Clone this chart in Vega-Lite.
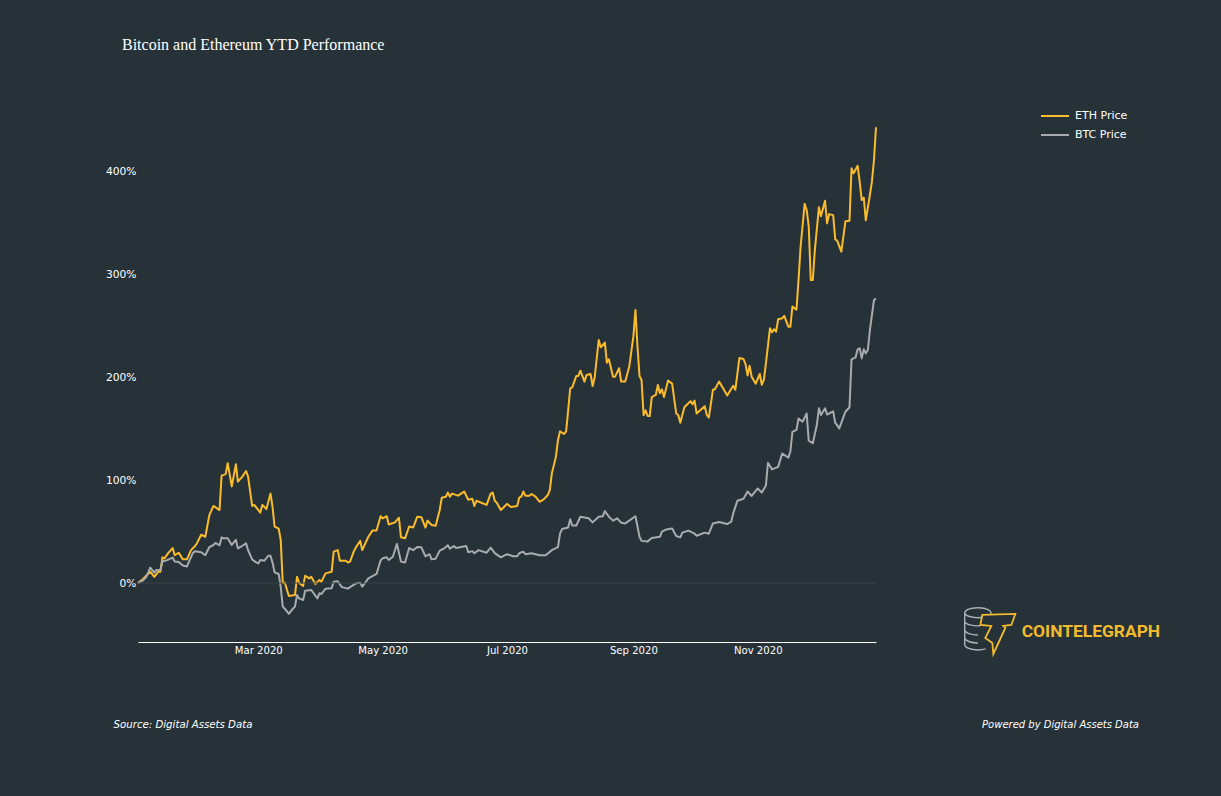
{"$schema":"https://vega.github.io/schema/vega-lite/v6.json","width":738,"height":542,"autosize":{"type":"none"},"padding":{"left":138,"top":100,"right":345,"bottom":154},"background":"#263238","config":{"view":{"stroke":null},"font":"DejaVu Sans"},"title":{"text":"Bitcoin and Ethereum YTD Performance","anchor":"start","frame":"group","dx":-16,"offset":47,"font":"Liberation Serif","fontSize":16,"fontWeight":"normal","color":"#ffffff"},
"datasets":{"prices":[
{"date":"2020-01-02","series":"ETH Price","value":0},{"date":"2020-01-04","series":"ETH Price","value":3},{"date":"2020-01-06","series":"ETH Price","value":7},{"date":"2020-01-08","series":"ETH Price","value":11},{"date":"2020-01-10","series":"ETH Price","value":6},{"date":"2020-01-12","series":"ETH Price","value":11},{"date":"2020-01-13","series":"ETH Price","value":11},{"date":"2020-01-14","series":"ETH Price","value":25},{"date":"2020-01-15","series":"ETH Price","value":24},{"date":"2020-01-17","series":"ETH Price","value":29.5},{"date":"2020-01-19","series":"ETH Price","value":34},{"date":"2020-01-20","series":"ETH Price","value":27},{"date":"2020-01-22","series":"ETH Price","value":29.5},{"date":"2020-01-24","series":"ETH Price","value":23},{"date":"2020-01-26","series":"ETH Price","value":23},{"date":"2020-01-28","series":"ETH Price","value":32},{"date":"2020-01-30","series":"ETH Price","value":36},{"date":"2020-01-31","series":"ETH Price","value":39},{"date":"2020-02-02","series":"ETH Price","value":47},{"date":"2020-02-04","series":"ETH Price","value":45},{"date":"2020-02-06","series":"ETH Price","value":66},{"date":"2020-02-08","series":"ETH Price","value":75},{"date":"2020-02-11","series":"ETH Price","value":71},{"date":"2020-02-12","series":"ETH Price","value":104.5},{"date":"2020-02-14","series":"ETH Price","value":106},{"date":"2020-02-15","series":"ETH Price","value":116.5},{"date":"2020-02-17","series":"ETH Price","value":94},{"date":"2020-02-19","series":"ETH Price","value":115.5},{"date":"2020-02-20","series":"ETH Price","value":98.6},{"date":"2020-02-22","series":"ETH Price","value":103},{"date":"2020-02-24","series":"ETH Price","value":109},{"date":"2020-02-25","series":"ETH Price","value":103.5},{"date":"2020-02-27","series":"ETH Price","value":75},{"date":"2020-02-28","series":"ETH Price","value":76},{"date":"2020-02-29","series":"ETH Price","value":73.6},{"date":"2020-03-02","series":"ETH Price","value":68.5},{"date":"2020-03-03","series":"ETH Price","value":76},{"date":"2020-03-05","series":"ETH Price","value":72},{"date":"2020-03-07","series":"ETH Price","value":87},{"date":"2020-03-08","series":"ETH Price","value":74},{"date":"2020-03-09","series":"ETH Price","value":55},{"date":"2020-03-11","series":"ETH Price","value":53},{"date":"2020-03-12","series":"ETH Price","value":42},{"date":"2020-03-13","series":"ETH Price","value":0},{"date":"2020-03-14","series":"ETH Price","value":0.5},{"date":"2020-03-16","series":"ETH Price","value":-12.6},{"date":"2020-03-19","series":"ETH Price","value":-11.7},{"date":"2020-03-20","series":"ETH Price","value":6},{"date":"2020-03-21","series":"ETH Price","value":0.3},{"date":"2020-03-23","series":"ETH Price","value":-3},{"date":"2020-03-24","series":"ETH Price","value":7},{"date":"2020-03-26","series":"ETH Price","value":4.5},{"date":"2020-03-27","series":"ETH Price","value":6},{"date":"2020-03-29","series":"ETH Price","value":-1},{"date":"2020-03-31","series":"ETH Price","value":3},{"date":"2020-04-01","series":"ETH Price","value":1.3},{"date":"2020-04-03","series":"ETH Price","value":9.4},{"date":"2020-04-06","series":"ETH Price","value":11},{"date":"2020-04-07","series":"ETH Price","value":30.5},{"date":"2020-04-09","series":"ETH Price","value":32},{"date":"2020-04-10","series":"ETH Price","value":21.7},{"date":"2020-04-13","series":"ETH Price","value":21.7},{"date":"2020-04-14","series":"ETH Price","value":20},{"date":"2020-04-15","series":"ETH Price","value":20.8},{"date":"2020-04-17","series":"ETH Price","value":31.5},{"date":"2020-04-18","series":"ETH Price","value":35},{"date":"2020-04-20","series":"ETH Price","value":41},{"date":"2020-04-21","series":"ETH Price","value":32},{"date":"2020-04-24","series":"ETH Price","value":45},{"date":"2020-04-26","series":"ETH Price","value":51},{"date":"2020-04-28","series":"ETH Price","value":51},{"date":"2020-04-30","series":"ETH Price","value":65},{"date":"2020-05-01","series":"ETH Price","value":63},{"date":"2020-05-03","series":"ETH Price","value":65},{"date":"2020-05-04","series":"ETH Price","value":57},{"date":"2020-05-07","series":"ETH Price","value":59},{"date":"2020-05-09","series":"ETH Price","value":63.5},{"date":"2020-05-10","series":"ETH Price","value":44.5},{"date":"2020-05-12","series":"ETH Price","value":43.5},{"date":"2020-05-14","series":"ETH Price","value":55},{"date":"2020-05-16","series":"ETH Price","value":54},{"date":"2020-05-18","series":"ETH Price","value":64.5},{"date":"2020-05-20","series":"ETH Price","value":64},{"date":"2020-05-22","series":"ETH Price","value":54},{"date":"2020-05-23","series":"ETH Price","value":60.7},{"date":"2020-05-25","series":"ETH Price","value":56.4},{"date":"2020-05-27","series":"ETH Price","value":55.8},{"date":"2020-05-29","series":"ETH Price","value":71},{"date":"2020-05-30","series":"ETH Price","value":83},{"date":"2020-06-01","series":"ETH Price","value":84},{"date":"2020-06-02","series":"ETH Price","value":88},{"date":"2020-06-03","series":"ETH Price","value":84},{"date":"2020-06-04","series":"ETH Price","value":87},{"date":"2020-06-07","series":"ETH Price","value":85},{"date":"2020-06-10","series":"ETH Price","value":89},{"date":"2020-06-12","series":"ETH Price","value":81},{"date":"2020-06-14","series":"ETH Price","value":82},{"date":"2020-06-15","series":"ETH Price","value":75},{"date":"2020-06-16","series":"ETH Price","value":80},{"date":"2020-06-21","series":"ETH Price","value":76},{"date":"2020-06-23","series":"ETH Price","value":87},{"date":"2020-06-24","series":"ETH Price","value":88},{"date":"2020-06-25","series":"ETH Price","value":80},{"date":"2020-06-26","series":"ETH Price","value":78},{"date":"2020-06-28","series":"ETH Price","value":71},{"date":"2020-06-30","series":"ETH Price","value":75},{"date":"2020-07-01","series":"ETH Price","value":77},{"date":"2020-07-03","series":"ETH Price","value":74},{"date":"2020-07-06","series":"ETH Price","value":75},{"date":"2020-07-07","series":"ETH Price","value":83},{"date":"2020-07-08","series":"ETH Price","value":84},{"date":"2020-07-09","series":"ETH Price","value":89},{"date":"2020-07-10","series":"ETH Price","value":85},{"date":"2020-07-12","series":"ETH Price","value":85},{"date":"2020-07-13","series":"ETH Price","value":86.6},{"date":"2020-07-15","series":"ETH Price","value":84},{"date":"2020-07-17","series":"ETH Price","value":79},{"date":"2020-07-19","series":"ETH Price","value":81.4},{"date":"2020-07-21","series":"ETH Price","value":85.6},{"date":"2020-07-22","series":"ETH Price","value":90.5},{"date":"2020-07-23","series":"ETH Price","value":106.7},{"date":"2020-07-25","series":"ETH Price","value":123},{"date":"2020-07-26","series":"ETH Price","value":139},{"date":"2020-07-27","series":"ETH Price","value":147.6},{"date":"2020-07-29","series":"ETH Price","value":145},{"date":"2020-07-30","series":"ETH Price","value":147.6},{"date":"2020-07-31","series":"ETH Price","value":168},{"date":"2020-08-01","series":"ETH Price","value":189.5},{"date":"2020-08-02","series":"ETH Price","value":190.4},{"date":"2020-08-04","series":"ETH Price","value":201.5},{"date":"2020-08-05","series":"ETH Price","value":201.5},{"date":"2020-08-06","series":"ETH Price","value":206.6},{"date":"2020-08-08","series":"ETH Price","value":196},{"date":"2020-08-09","series":"ETH Price","value":202.4},{"date":"2020-08-11","series":"ETH Price","value":203.4},{"date":"2020-08-12","series":"ETH Price","value":191.7},{"date":"2020-08-13","series":"ETH Price","value":200},{"date":"2020-08-15","series":"ETH Price","value":236.5},{"date":"2020-08-16","series":"ETH Price","value":229.4},{"date":"2020-08-18","series":"ETH Price","value":234},{"date":"2020-08-19","series":"ETH Price","value":214.4},{"date":"2020-08-20","series":"ETH Price","value":217.7},{"date":"2020-08-22","series":"ETH Price","value":200.8},{"date":"2020-08-23","series":"ETH Price","value":200.8},{"date":"2020-08-25","series":"ETH Price","value":209},{"date":"2020-08-26","series":"ETH Price","value":196},{"date":"2020-08-28","series":"ETH Price","value":196},{"date":"2020-08-30","series":"ETH Price","value":211},{"date":"2020-09-01","series":"ETH Price","value":240},{"date":"2020-09-02","series":"ETH Price","value":265.7},{"date":"2020-09-03","series":"ETH Price","value":230},{"date":"2020-09-04","series":"ETH Price","value":201.5},{"date":"2020-09-05","series":"ETH Price","value":197.6},{"date":"2020-09-06","series":"ETH Price","value":163.5},{"date":"2020-09-07","series":"ETH Price","value":168},{"date":"2020-09-08","series":"ETH Price","value":162.5},{"date":"2020-09-09","series":"ETH Price","value":162.5},{"date":"2020-09-10","series":"ETH Price","value":181},{"date":"2020-09-12","series":"ETH Price","value":183},{"date":"2020-09-13","series":"ETH Price","value":192.7},{"date":"2020-09-14","series":"ETH Price","value":184.6},{"date":"2020-09-15","series":"ETH Price","value":188.5},{"date":"2020-09-16","series":"ETH Price","value":181},{"date":"2020-09-18","series":"ETH Price","value":197},{"date":"2020-09-20","series":"ETH Price","value":194},{"date":"2020-09-22","series":"ETH Price","value":165},{"date":"2020-09-23","series":"ETH Price","value":163.5},{"date":"2020-09-24","series":"ETH Price","value":156},{"date":"2020-09-26","series":"ETH Price","value":171},{"date":"2020-09-29","series":"ETH Price","value":177},{"date":"2020-09-30","series":"ETH Price","value":174},{"date":"2020-10-01","series":"ETH Price","value":177.5},{"date":"2020-10-02","series":"ETH Price","value":165},{"date":"2020-10-06","series":"ETH Price","value":172},{"date":"2020-10-07","series":"ETH Price","value":163.5},{"date":"2020-10-08","series":"ETH Price","value":161},{"date":"2020-10-10","series":"ETH Price","value":188},{"date":"2020-10-11","series":"ETH Price","value":188.5},{"date":"2020-10-13","series":"ETH Price","value":196},{"date":"2020-10-15","series":"ETH Price","value":189.5},{"date":"2020-10-17","series":"ETH Price","value":182.6},{"date":"2020-10-20","series":"ETH Price","value":192},{"date":"2020-10-21","series":"ETH Price","value":188},{"date":"2020-10-23","series":"ETH Price","value":219},{"date":"2020-10-25","series":"ETH Price","value":218},{"date":"2020-10-26","series":"ETH Price","value":213},{"date":"2020-10-27","series":"ETH Price","value":202},{"date":"2020-10-28","series":"ETH Price","value":211.5},{"date":"2020-10-29","series":"ETH Price","value":200.8},{"date":"2020-10-31","series":"ETH Price","value":194},{"date":"2020-11-02","series":"ETH Price","value":203.4},{"date":"2020-11-03","series":"ETH Price","value":193},{"date":"2020-11-04","series":"ETH Price","value":197.6},{"date":"2020-11-05","series":"ETH Price","value":213.8},{"date":"2020-11-07","series":"ETH Price","value":248},{"date":"2020-11-08","series":"ETH Price","value":244},{"date":"2020-11-09","series":"ETH Price","value":247},{"date":"2020-11-10","series":"ETH Price","value":244.6},{"date":"2020-11-11","series":"ETH Price","value":256.6},{"date":"2020-11-13","series":"ETH Price","value":257.6},{"date":"2020-11-14","series":"ETH Price","value":260},{"date":"2020-11-16","series":"ETH Price","value":249.5},{"date":"2020-11-17","series":"ETH Price","value":249.5},{"date":"2020-11-18","series":"ETH Price","value":269},{"date":"2020-11-20","series":"ETH Price","value":266},{"date":"2020-11-21","series":"ETH Price","value":295},{"date":"2020-11-22","series":"ETH Price","value":327},{"date":"2020-11-24","series":"ETH Price","value":369},{"date":"2020-11-25","series":"ETH Price","value":363},{"date":"2020-11-26","series":"ETH Price","value":347},{"date":"2020-11-27","series":"ETH Price","value":295},{"date":"2020-11-28","series":"ETH Price","value":295},{"date":"2020-11-29","series":"ETH Price","value":324},{"date":"2020-12-01","series":"ETH Price","value":365.6},{"date":"2020-12-02","series":"ETH Price","value":357},{"date":"2020-12-04","series":"ETH Price","value":372},{"date":"2020-12-05","series":"ETH Price","value":350},{"date":"2020-12-06","series":"ETH Price","value":359},{"date":"2020-12-08","series":"ETH Price","value":358},{"date":"2020-12-09","series":"ETH Price","value":334.5},{"date":"2020-12-10","series":"ETH Price","value":333},{"date":"2020-12-12","series":"ETH Price","value":322.5},{"date":"2020-12-14","series":"ETH Price","value":352},{"date":"2020-12-16","series":"ETH Price","value":352.6},{"date":"2020-12-17","series":"ETH Price","value":403.6},{"date":"2020-12-18","series":"ETH Price","value":398.7},{"date":"2020-12-20","series":"ETH Price","value":406},{"date":"2020-12-21","series":"ETH Price","value":390.6},{"date":"2020-12-22","series":"ETH Price","value":372.7},{"date":"2020-12-23","series":"ETH Price","value":375},{"date":"2020-12-24","series":"ETH Price","value":353},{"date":"2020-12-26","series":"ETH Price","value":377.6},{"date":"2020-12-27","series":"ETH Price","value":390.6},{"date":"2020-12-28","series":"ETH Price","value":411.7},{"date":"2020-12-29","series":"ETH Price","value":443.5},
{"date":"2020-01-02","series":"BTC Price","value":0},{"date":"2020-01-04","series":"BTC Price","value":2},{"date":"2020-01-06","series":"BTC Price","value":5.5},{"date":"2020-01-08","series":"BTC Price","value":15},{"date":"2020-01-10","series":"BTC Price","value":10},{"date":"2020-01-11","series":"BTC Price","value":12.7},{"date":"2020-01-13","series":"BTC Price","value":13},{"date":"2020-01-14","series":"BTC Price","value":21},{"date":"2020-01-16","series":"BTC Price","value":22},{"date":"2020-01-19","series":"BTC Price","value":24.7},{"date":"2020-01-20","series":"BTC Price","value":21},{"date":"2020-01-22","series":"BTC Price","value":20.4},{"date":"2020-01-24","series":"BTC Price","value":17},{"date":"2020-01-26","series":"BTC Price","value":16},{"date":"2020-01-27","series":"BTC Price","value":20.8},{"date":"2020-01-29","series":"BTC Price","value":29.5},{"date":"2020-01-30","series":"BTC Price","value":31},{"date":"2020-02-02","series":"BTC Price","value":30},{"date":"2020-02-04","series":"BTC Price","value":27},{"date":"2020-02-06","series":"BTC Price","value":35},{"date":"2020-02-08","series":"BTC Price","value":37},{"date":"2020-02-09","series":"BTC Price","value":39},{"date":"2020-02-11","series":"BTC Price","value":36.7},{"date":"2020-02-12","series":"BTC Price","value":44.4},{"date":"2020-02-13","series":"BTC Price","value":43.5},{"date":"2020-02-15","series":"BTC Price","value":43.5},{"date":"2020-02-17","series":"BTC Price","value":37},{"date":"2020-02-19","series":"BTC Price","value":42},{"date":"2020-02-20","series":"BTC Price","value":33.7},{"date":"2020-02-22","series":"BTC Price","value":36},{"date":"2020-02-24","series":"BTC Price","value":38.6},{"date":"2020-02-25","series":"BTC Price","value":32},{"date":"2020-02-27","series":"BTC Price","value":23},{"date":"2020-02-29","series":"BTC Price","value":20},{"date":"2020-03-01","series":"BTC Price","value":19},{"date":"2020-03-02","series":"BTC Price","value":22.4},{"date":"2020-03-04","series":"BTC Price","value":21.7},{"date":"2020-03-06","series":"BTC Price","value":26.6},{"date":"2020-03-07","series":"BTC Price","value":26.6},{"date":"2020-03-08","series":"BTC Price","value":19.8},{"date":"2020-03-09","series":"BTC Price","value":10.4},{"date":"2020-03-11","series":"BTC Price","value":8.8},{"date":"2020-03-12","series":"BTC Price","value":-3.6},{"date":"2020-03-13","series":"BTC Price","value":-23},{"date":"2020-03-14","series":"BTC Price","value":-25},{"date":"2020-03-16","series":"BTC Price","value":-30},{"date":"2020-03-18","series":"BTC Price","value":-25},{"date":"2020-03-19","series":"BTC Price","value":-23},{"date":"2020-03-20","series":"BTC Price","value":-11.7},{"date":"2020-03-21","series":"BTC Price","value":-15},{"date":"2020-03-23","series":"BTC Price","value":-16.5},{"date":"2020-03-24","series":"BTC Price","value":-7.5},{"date":"2020-03-27","series":"BTC Price","value":-6.8},{"date":"2020-03-30","series":"BTC Price","value":-15},{"date":"2020-03-31","series":"BTC Price","value":-10},{"date":"2020-04-01","series":"BTC Price","value":-10.7},{"date":"2020-04-03","series":"BTC Price","value":-5.5},{"date":"2020-04-06","series":"BTC Price","value":-5},{"date":"2020-04-07","series":"BTC Price","value":1.3},{"date":"2020-04-09","series":"BTC Price","value":1.6},{"date":"2020-04-11","series":"BTC Price","value":-4},{"date":"2020-04-14","series":"BTC Price","value":-5.5},{"date":"2020-04-15","series":"BTC Price","value":-4},{"date":"2020-04-18","series":"BTC Price","value":-0.3},{"date":"2020-04-20","series":"BTC Price","value":0.3},{"date":"2020-04-21","series":"BTC Price","value":-3.5},{"date":"2020-04-24","series":"BTC Price","value":4.5},{"date":"2020-04-28","series":"BTC Price","value":8.8},{"date":"2020-04-30","series":"BTC Price","value":22},{"date":"2020-05-01","series":"BTC Price","value":24},{"date":"2020-05-03","series":"BTC Price","value":25},{"date":"2020-05-04","series":"BTC Price","value":22.4},{"date":"2020-05-06","series":"BTC Price","value":25.6},{"date":"2020-05-08","series":"BTC Price","value":38},{"date":"2020-05-10","series":"BTC Price","value":20.8},{"date":"2020-05-12","series":"BTC Price","value":20},{"date":"2020-05-14","series":"BTC Price","value":34},{"date":"2020-05-16","series":"BTC Price","value":32},{"date":"2020-05-18","series":"BTC Price","value":35},{"date":"2020-05-20","series":"BTC Price","value":34.7},{"date":"2020-05-22","series":"BTC Price","value":26},{"date":"2020-05-24","series":"BTC Price","value":28},{"date":"2020-05-25","series":"BTC Price","value":23},{"date":"2020-05-27","series":"BTC Price","value":23.7},{"date":"2020-05-29","series":"BTC Price","value":31.5},{"date":"2020-05-31","series":"BTC Price","value":33.4},{"date":"2020-06-02","series":"BTC Price","value":36.7},{"date":"2020-06-03","series":"BTC Price","value":33.4},{"date":"2020-06-05","series":"BTC Price","value":36},{"date":"2020-06-06","series":"BTC Price","value":34},{"date":"2020-06-11","series":"BTC Price","value":36},{"date":"2020-06-12","series":"BTC Price","value":30},{"date":"2020-06-14","series":"BTC Price","value":31},{"date":"2020-06-15","series":"BTC Price","value":29},{"date":"2020-06-17","series":"BTC Price","value":32},{"date":"2020-06-21","series":"BTC Price","value":29.5},{"date":"2020-06-23","series":"BTC Price","value":34.4},{"date":"2020-06-25","series":"BTC Price","value":29},{"date":"2020-06-28","series":"BTC Price","value":25},{"date":"2020-07-01","series":"BTC Price","value":28},{"date":"2020-07-04","series":"BTC Price","value":26},{"date":"2020-07-06","series":"BTC Price","value":26},{"date":"2020-07-07","series":"BTC Price","value":29},{"date":"2020-07-09","series":"BTC Price","value":30.5},{"date":"2020-07-10","series":"BTC Price","value":28},{"date":"2020-07-13","series":"BTC Price","value":29},{"date":"2020-07-17","series":"BTC Price","value":27},{"date":"2020-07-20","series":"BTC Price","value":27},{"date":"2020-07-23","series":"BTC Price","value":32},{"date":"2020-07-26","series":"BTC Price","value":35},{"date":"2020-07-27","series":"BTC Price","value":48},{"date":"2020-07-28","series":"BTC Price","value":52.5},{"date":"2020-07-31","series":"BTC Price","value":54},{"date":"2020-08-01","series":"BTC Price","value":62},{"date":"2020-08-02","series":"BTC Price","value":56},{"date":"2020-08-04","series":"BTC Price","value":56},{"date":"2020-08-06","series":"BTC Price","value":64.5},{"date":"2020-08-10","series":"BTC Price","value":63},{"date":"2020-08-12","series":"BTC Price","value":59},{"date":"2020-08-15","series":"BTC Price","value":64.5},{"date":"2020-08-17","series":"BTC Price","value":65},{"date":"2020-08-18","series":"BTC Price","value":70},{"date":"2020-08-20","series":"BTC Price","value":64.5},{"date":"2020-08-22","series":"BTC Price","value":60.7},{"date":"2020-08-24","series":"BTC Price","value":63},{"date":"2020-08-26","series":"BTC Price","value":58.7},{"date":"2020-08-28","series":"BTC Price","value":58},{"date":"2020-09-02","series":"BTC Price","value":65},{"date":"2020-09-04","series":"BTC Price","value":45},{"date":"2020-09-05","series":"BTC Price","value":41},{"date":"2020-09-08","series":"BTC Price","value":40.5},{"date":"2020-09-10","series":"BTC Price","value":43.8},{"date":"2020-09-14","series":"BTC Price","value":45},{"date":"2020-09-15","series":"BTC Price","value":50},{"date":"2020-09-17","series":"BTC Price","value":52},{"date":"2020-09-20","series":"BTC Price","value":53},{"date":"2020-09-22","series":"BTC Price","value":45.7},{"date":"2020-09-24","series":"BTC Price","value":44.4},{"date":"2020-09-25","series":"BTC Price","value":49},{"date":"2020-09-28","series":"BTC Price","value":51},{"date":"2020-10-01","series":"BTC Price","value":48},{"date":"2020-10-02","series":"BTC Price","value":46},{"date":"2020-10-06","series":"BTC Price","value":49},{"date":"2020-10-08","series":"BTC Price","value":48},{"date":"2020-10-10","series":"BTC Price","value":58},{"date":"2020-10-13","series":"BTC Price","value":59.4},{"date":"2020-10-17","series":"BTC Price","value":57.4},{"date":"2020-10-19","series":"BTC Price","value":59.7},{"date":"2020-10-20","series":"BTC Price","value":68},{"date":"2020-10-22","series":"BTC Price","value":80},{"date":"2020-10-25","series":"BTC Price","value":82},{"date":"2020-10-27","series":"BTC Price","value":89},{"date":"2020-10-29","series":"BTC Price","value":84.7},{"date":"2020-11-01","series":"BTC Price","value":92},{"date":"2020-11-03","series":"BTC Price","value":88},{"date":"2020-11-05","series":"BTC Price","value":95},{"date":"2020-11-06","series":"BTC Price","value":117},{"date":"2020-11-08","series":"BTC Price","value":110.6},{"date":"2020-11-11","series":"BTC Price","value":113},{"date":"2020-11-13","series":"BTC Price","value":126},{"date":"2020-11-16","series":"BTC Price","value":122},{"date":"2020-11-17","series":"BTC Price","value":128},{"date":"2020-11-18","series":"BTC Price","value":147},{"date":"2020-11-20","series":"BTC Price","value":149},{"date":"2020-11-21","series":"BTC Price","value":160},{"date":"2020-11-23","series":"BTC Price","value":157},{"date":"2020-11-25","series":"BTC Price","value":165},{"date":"2020-11-26","series":"BTC Price","value":138.5},{"date":"2020-11-28","series":"BTC Price","value":136},{"date":"2020-11-30","series":"BTC Price","value":154},{"date":"2020-12-01","series":"BTC Price","value":170},{"date":"2020-12-02","series":"BTC Price","value":163.5},{"date":"2020-12-04","series":"BTC Price","value":170},{"date":"2020-12-05","series":"BTC Price","value":164},{"date":"2020-12-08","series":"BTC Price","value":167},{"date":"2020-12-09","series":"BTC Price","value":156},{"date":"2020-12-11","series":"BTC Price","value":150.5},{"date":"2020-12-14","series":"BTC Price","value":166.7},{"date":"2020-12-16","series":"BTC Price","value":171},{"date":"2020-12-17","series":"BTC Price","value":217.7},{"date":"2020-12-19","series":"BTC Price","value":219.6},{"date":"2020-12-20","series":"BTC Price","value":227.4},{"date":"2020-12-21","series":"BTC Price","value":228.4},{"date":"2020-12-22","series":"BTC Price","value":218.6},{"date":"2020-12-23","series":"BTC Price","value":227.4},{"date":"2020-12-24","series":"BTC Price","value":223.5},{"date":"2020-12-25","series":"BTC Price","value":226.8},{"date":"2020-12-26","series":"BTC Price","value":246},{"date":"2020-12-28","series":"BTC Price","value":275.4},{"date":"2020-12-29","series":"BTC Price","value":276.7}
]},
"layer":[
{"data":{"name":"prices"},"mark":{"type":"line","strokeWidth":2,"interpolate":"linear","strokeJoin":"round"},"encoding":{
"x":{"field":"date","type":"temporal","title":null,"scale":{"type":"utc","domain":["2020-01-02","2020-12-29"]},"axis":{"values":["2020-03-01","2020-05-01","2020-07-01","2020-09-01","2020-11-01"],"format":"%b %Y","grid":false,"ticks":false,"domain":true,"domainColor":"#ffffff","domainWidth":1,"labelColor":"#ffffff","labelFont":"DejaVu Sans","labelFontSize":10.1,"labelPadding":3,"labelFlush":false,"labelOverlap":false}},
"y":{"field":"value","type":"quantitative","title":null,"scale":{"domain":[-57.42,470.07],"nice":false},"axis":{"values":[0,100,200,300,400],"labelExpr":"datum.value + '%'","grid":false,"ticks":false,"domain":false,"labelColor":"#ffffff","labelFont":"DejaVu Sans","labelFontSize":10.7,"labelPadding":2}},
"color":{"field":"series","type":"nominal","sort":null,"scale":{"domain":["ETH Price","BTC Price"],"range":["#fbbc2c","#a8acae"]},"legend":{"title":null,"orient":"none","legendX":902,"legendY":10,"symbolType":"stroke","symbolSize":784,"symbolStrokeWidth":2,"labelColor":"#ffffff","labelFont":"DejaVu Sans","labelFontSize":11,"clipHeight":12,"rowPadding":7,"labelOffset":5}}}},
{"data":{"values":[{"value":0}]},"mark":{"type":"rule","color":"#3b4549","strokeWidth":1},"encoding":{"y":{"field":"value","type":"quantitative","scale":{"domain":[-57.42,470.07],"nice":false}}}},
{"data":{"values":[{"date":"2019-12-21","value":-138,"note":"Source: Digital Assets Data"}]},"mark":{"type":"text","align":"left","baseline":"middle","font":"DejaVu Sans","fontStyle":"italic","fontSize":10.2,"color":"#ffffff"},"encoding":{"x":{"field":"date","type":"temporal","scale":{"type":"utc","domain":["2020-01-02","2020-12-29"]}},"y":{"field":"value","type":"quantitative","scale":{"domain":[-57.42,470.07],"nice":false}},"text":{"field":"note"}}},
{"data":{"values":[{"date":"2021-05-07","value":-138,"note":"Powered by Digital Assets Data"}]},"mark":{"type":"text","align":"right","baseline":"middle","font":"DejaVu Sans","fontStyle":"italic","fontSize":10,"color":"#ffffff"},"encoding":{"x":{"field":"date","type":"temporal","scale":{"type":"utc","domain":["2020-01-02","2020-12-29"]}},"y":{"field":"value","type":"quantitative","scale":{"domain":[-57.42,470.07],"nice":false}},"text":{"field":"note"}}},
{"data":{"values":[{"date":"2021-03-10","value":-47.7,"note":"COINTELEGRAPH"}]},"mark":{"type":"text","align":"left","baseline":"middle","font":"Roboto","fontWeight":"bold","fontSize":17.4,"dx":1,"color":"#f2bb2e"},"encoding":{"x":{"field":"date","type":"temporal","scale":{"type":"utc","domain":["2020-01-02","2020-12-29"]}},"y":{"field":"value","type":"quantitative","scale":{"domain":[-57.42,470.07],"nice":false}},"text":{"field":"note"}}},
{"data":{"values":[{"date":"2021-02-17","value":-43.8,"item":"coins"}]},"mark":{"type":"point","size":1936,"filled":false,"stroke":"#e4e6e7","strokeWidth":1.4,"shape":"M-0.6,-0.7 A0.6,0.24 0 1 1 0.5,-0.55 M-0.6,-0.7 L-0.6,0.75 A0.6,0.24 0 0 0 0.35,0.95 M-0.6,-0.7 A0.6,0.24 0 0 0 0.3,-0.5 M-0.6,-0.3 A0.6,0.24 0 0 0 0.1,-0.1 M-0.6,0.1 A0.6,0.24 0 0 0 0,0.32 M-0.6,0.45 A0.6,0.24 0 0 0 0,0.68"},"encoding":{"x":{"field":"date","type":"temporal","scale":{"type":"utc","domain":["2020-01-02","2020-12-29"]}},"y":{"field":"value","type":"quantitative","scale":{"domain":[-57.42,470.07],"nice":false}}}},
{"data":{"values":[{"date":"2021-02-27","value":-49.6,"item":"bolt"}]},"mark":{"type":"point","size":1600,"filled":true,"fill":"#263238","fillOpacity":1,"stroke":"#f2bb2e","strokeWidth":1.8,"opacity":1,"shape":"M-0.8,-0.95 L0.85,-1 L0.65,-0.45 L0.25,-0.4 L0.35,-0.3 L-0.25,1 L-0.3,0.45 L-0.65,0.2 L-0.35,-0.4 L-0.9,-0.45 Z"},"encoding":{"x":{"field":"date","type":"temporal","scale":{"type":"utc","domain":["2020-01-02","2020-12-29"]}},"y":{"field":"value","type":"quantitative","scale":{"domain":[-57.42,470.07],"nice":false}}}}
]}
